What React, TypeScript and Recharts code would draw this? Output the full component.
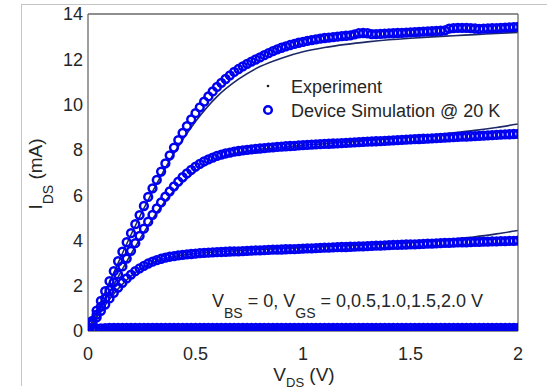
import React from 'react';
import { ComposedChart, Line, XAxis, YAxis } from 'recharts';

// V_DS sample points of the device simulation (V)
const VDS_SIM = [0, 0.02, 0.04, 0.06, 0.08, 0.1, 0.12, 0.14, 0.16, 0.18, 0.2, 0.22, 0.24, 0.26, 0.28, 0.3, 0.32, 0.34, 0.36, 0.38, 0.4, 0.42, 0.44, 0.46, 0.48, 0.5, 0.52, 0.54, 0.56, 0.58, 0.6, 0.62, 0.64, 0.66, 0.68, 0.7, 0.72, 0.74, 0.76, 0.78, 0.8, 0.82, 0.84, 0.86, 0.88, 0.9, 0.92, 0.94, 0.96, 0.98, 1, 1.02, 1.04, 1.06, 1.08, 1.1, 1.12, 1.14, 1.16, 1.18, 1.2, 1.22, 1.24, 1.26, 1.28, 1.3, 1.32, 1.34, 1.36, 1.38, 1.4, 1.42, 1.44, 1.46, 1.48, 1.5, 1.52, 1.54, 1.56, 1.58, 1.6, 1.62, 1.64, 1.66, 1.68, 1.7, 1.72, 1.74, 1.76, 1.78, 1.8, 1.82, 1.84, 1.86, 1.88, 1.9, 1.92, 1.94, 1.96, 1.98, 2];

// Simulated I_DS (mA) for each V_GS
const SIM_VGS_20 = [0, 0.45, 0.9, 1.33, 1.76, 2.2, 2.64, 3.08, 3.5, 3.92, 4.32, 4.72, 5.12, 5.52, 5.92, 6.3, 6.67, 7.04, 7.4, 7.76, 8.1, 8.43, 8.75, 9.05, 9.34, 9.62, 9.88, 10.13, 10.36, 10.58, 10.78, 10.96, 11.13, 11.29, 11.44, 11.57, 11.69, 11.8, 11.9, 11.99, 12.08, 12.18, 12.27, 12.36, 12.44, 12.51, 12.57, 12.63, 12.68, 12.73, 12.77, 12.81, 12.85, 12.88, 12.91, 12.94, 12.96, 12.98, 13.0, 13.02, 13.04, 13.06, 13.1, 13.15, 13.16, 13.15, 13.11, 13.11, 13.12, 13.13, 13.14, 13.15, 13.16, 13.17, 13.18, 13.19, 13.2, 13.21, 13.22, 13.23, 13.24, 13.25, 13.26, 13.28, 13.35, 13.38, 13.39, 13.39, 13.39, 13.38, 13.36, 13.34, 13.35, 13.36, 13.37, 13.38, 13.39, 13.4, 13.41, 13.42, 13.43];
const SIM_VGS_15 = [0, 0.36, 0.72, 1.08, 1.44, 1.8, 2.15, 2.5, 2.85, 3.2, 3.54, 3.88, 4.2, 4.52, 4.83, 5.13, 5.41, 5.68, 5.93, 6.17, 6.39, 6.6, 6.79, 6.96, 7.12, 7.26, 7.38, 7.49, 7.58, 7.66, 7.73, 7.79, 7.84, 7.88, 7.92, 7.95, 7.98, 8.0, 8.02, 8.04, 8.06, 8.08, 8.1, 8.11, 8.13, 8.14, 8.16, 8.17, 8.18, 8.2, 8.21, 8.22, 8.23, 8.24, 8.25, 8.26, 8.27, 8.28, 8.29, 8.3, 8.31, 8.32, 8.33, 8.34, 8.35, 8.36, 8.37, 8.38, 8.39, 8.4, 8.41, 8.42, 8.43, 8.44, 8.45, 8.46, 8.47, 8.48, 8.49, 8.5, 8.51, 8.52, 8.53, 8.54, 8.55, 8.56, 8.57, 8.58, 8.59, 8.6, 8.61, 8.62, 8.63, 8.64, 8.65, 8.66, 8.67, 8.68, 8.69, 8.7, 8.71];
const SIM_VGS_10 = [0, 0.3, 0.6, 0.89, 1.17, 1.44, 1.69, 1.92, 2.13, 2.32, 2.49, 2.64, 2.77, 2.88, 2.98, 3.06, 3.13, 3.19, 3.24, 3.28, 3.31, 3.34, 3.36, 3.38, 3.4, 3.42, 3.44, 3.45, 3.46, 3.47, 3.48, 3.49, 3.5, 3.51, 3.52, 3.52, 3.53, 3.54, 3.55, 3.56, 3.56, 3.57, 3.58, 3.59, 3.59, 3.6, 3.61, 3.62, 3.62, 3.63, 3.64, 3.65, 3.65, 3.66, 3.67, 3.68, 3.68, 3.69, 3.7, 3.71, 3.71, 3.72, 3.73, 3.74, 3.74, 3.75, 3.76, 3.77, 3.77, 3.78, 3.79, 3.8, 3.8, 3.81, 3.82, 3.83, 3.83, 3.84, 3.85, 3.86, 3.86, 3.87, 3.88, 3.89, 3.89, 3.9, 3.91, 3.92, 3.92, 3.93, 3.94, 3.94, 3.95, 3.95, 3.96, 3.96, 3.97, 3.97, 3.98, 3.98, 3.99];
const SIM_VGS_05 = [0, 0.06, 0.1, 0.12, 0.13, 0.14, 0.14, 0.14, 0.14, 0.14, 0.14, 0.14, 0.14, 0.14, 0.14, 0.14, 0.14, 0.14, 0.14, 0.14, 0.14, 0.14, 0.14, 0.14, 0.14, 0.14, 0.14, 0.14, 0.14, 0.14, 0.14, 0.14, 0.14, 0.14, 0.14, 0.14, 0.14, 0.14, 0.14, 0.14, 0.14, 0.14, 0.14, 0.14, 0.14, 0.14, 0.14, 0.14, 0.14, 0.14, 0.14, 0.14, 0.14, 0.14, 0.14, 0.14, 0.14, 0.14, 0.14, 0.14, 0.14, 0.14, 0.14, 0.14, 0.14, 0.14, 0.14, 0.14, 0.14, 0.14, 0.14, 0.14, 0.14, 0.14, 0.14, 0.14, 0.14, 0.14, 0.14, 0.14, 0.14, 0.14, 0.14, 0.14, 0.14, 0.14, 0.14, 0.14, 0.14, 0.14, 0.14, 0.14, 0.14, 0.14, 0.14, 0.14, 0.14, 0.14, 0.14, 0.14, 0.14];
const SIM_VGS_0 = [0, 0, 0, 0, 0, 0, 0, 0, 0, 0, 0, 0, 0, 0, 0, 0, 0, 0, 0, 0, 0, 0, 0, 0, 0, 0, 0, 0, 0, 0, 0, 0, 0, 0, 0, 0, 0, 0, 0, 0, 0, 0, 0, 0, 0, 0, 0, 0, 0, 0, 0, 0, 0, 0, 0, 0, 0, 0, 0, 0, 0, 0, 0, 0, 0, 0, 0, 0, 0, 0, 0, 0, 0, 0, 0, 0, 0, 0, 0, 0, 0, 0, 0, 0, 0, 0, 0, 0, 0, 0, 0, 0, 0, 0, 0, 0, 0, 0, 0, 0, 0];

// Experimental I_DS (mA)
const VDS_EXP = [0, 0.1, 0.2, 0.3, 0.4, 0.5, 0.6, 0.7, 0.8, 0.9, 1.0, 1.1, 1.2, 1.3, 1.4, 1.5, 1.6, 1.7, 1.8, 1.9, 2.0];
const EXP_VGS_20 = [0, 2.15, 4.25, 6.15, 7.85, 9.25, 10.35, 11.12, 11.68, 12.05, 12.33, 12.52, 12.66, 12.77, 12.86, 12.93, 12.99, 13.04, 13.09, 13.14, 13.19];
const EXP_VGS_15 = [0, 1.7, 3.4, 4.95, 6.2, 7.05, 7.58, 7.87, 8.02, 8.11, 8.2, 8.27, 8.34, 8.41, 8.48, 8.56, 8.65, 8.75, 8.86, 8.99, 9.14];
const EXP_VGS_10 = [0, 1.4, 2.42, 3.02, 3.29, 3.42, 3.5, 3.55, 3.6, 3.64, 3.68, 3.72, 3.76, 3.8, 3.85, 3.9, 3.97, 4.06, 4.16, 4.29, 4.44];
const EXP_VGS_05 = [0, 0.05, 0.08, 0.09, 0.1, 0.1, 0.1, 0.1, 0.1, 0.1, 0.1, 0.1, 0.1, 0.1, 0.1, 0.1, 0.1, 0.1, 0.1, 0.1, 0.1];
const EXP_VGS_0 = [0, 0, 0, 0, 0, 0, 0, 0, 0, 0, 0, 0, 0, 0, 0, 0, 0, 0, 0, 0, 0];

const X_TICKS = [0, 0.5, 1, 1.5, 2];
const Y_TICKS = [0, 2, 4, 6, 8, 10, 12, 14];

const LEGEND_EXP = 'Experiment';
const LEGEND_SIM = 'Device Simulation @ 20 K';

const simRows = VDS_SIM.map((v, i) => ({
  v,
  g0: SIM_VGS_0[i],
  g05: SIM_VGS_05[i],
  g10: SIM_VGS_10[i],
  g15: SIM_VGS_15[i],
  g20: SIM_VGS_20[i],
}));
const expRows = VDS_EXP.map((v, i) => ({
  v,
  g0: EXP_VGS_0[i],
  g05: EXP_VGS_05[i],
  g10: EXP_VGS_10[i],
  g15: EXP_VGS_15[i],
  g20: EXP_VGS_20[i],
}));

const KEYS = ['g0', 'g05', 'g10', 'g15', 'g20'];

const FONT = '"Liberation Sans", Arial, sans-serif';
const AX = '#6a6a6a';
const TXT = '#262626';
const BLUE = '#0000f0';
const NAVY = '#1c2868';

export default function App() {
  return (
    <div style={{ position: 'absolute', left: 0, top: 0, width: 547, height: 389, background: '#fff', fontFamily: FONT }}>
      <ComposedChart width={547} height={389} margin={{ top: 14, right: 29, bottom: 0, left: 0 }} style={{ fontFamily: FONT }}>
        <XAxis
          type="number"
          dataKey="v"
          domain={[0, 2]}
          ticks={X_TICKS}
          height={58}
          tickSize={0}
          tickMargin={16}
          tickLine={false}
          axisLine={{ stroke: AX, strokeWidth: 1.3 }}
          tick={{ fontSize: 18, fill: TXT, fontFamily: FONT }}
          allowDataOverflow
        />
        <XAxis xAxisId="xb" type="number" orientation="bottom" mirror domain={[0, 2]} ticks={X_TICKS} tick={false} tickSize={5} axisLine={false} tickLine={{ stroke: AX, strokeWidth: 1.2 }} allowDataOverflow />
        <XAxis xAxisId="xt" type="number" orientation="top" mirror domain={[0, 2]} ticks={X_TICKS} tick={false} tickSize={5} axisLine={{ stroke: AX, strokeWidth: 1.3 }} tickLine={{ stroke: AX, strokeWidth: 1.2 }} allowDataOverflow />
        <YAxis
          type="number"
          domain={[0, 14]}
          ticks={Y_TICKS}
          width={88}
          tickSize={0}
          tickMargin={5}
          tickLine={false}
          axisLine={{ stroke: AX, strokeWidth: 1.3 }}
          tick={{ fontSize: 18, fill: TXT, fontFamily: FONT }}
          allowDataOverflow
        />
        <YAxis yAxisId="yl" type="number" orientation="left" mirror domain={[0, 14]} ticks={Y_TICKS} tick={false} tickSize={5} axisLine={false} tickLine={{ stroke: AX, strokeWidth: 1.2 }} allowDataOverflow />
        <YAxis yAxisId="yr" type="number" orientation="right" mirror domain={[0, 14]} ticks={Y_TICKS} tick={false} tickSize={5} axisLine={{ stroke: AX, strokeWidth: 1.3 }} tickLine={{ stroke: AX, strokeWidth: 1.2 }} allowDataOverflow />

        {KEYS.map((k) => (
          <Line
            key={'exp-' + k}
            data={expRows}
            dataKey={k}
            type="monotone"
            stroke={NAVY}
            strokeWidth={1.6}
            dot={false}
            isAnimationActive={false}
          />
        ))}
        {KEYS.map((k) => (
          <Line
            key={'sim-' + k}
            data={simRows}
            dataKey={k}
            stroke="none"
            dot={{ r: 3.9, stroke: BLUE, strokeWidth: 2.5, fill: 'none' }}
            isAnimationActive={false}
          />
        ))}
      </ComposedChart>

      <svg width={547} height={389} style={{ position: 'absolute', left: 0, top: 0, pointerEvents: 'none' }} fontFamily={FONT}>
        <line x1={21.5} y1={4} x2={21.5} y2={386} stroke="#c4c4c4" strokeWidth={1} />
        <line x1={21} y1={4.5} x2={547} y2={4.5} stroke="#c4c4c4" strokeWidth={1} />

        {/* legend */}
        <circle cx={268} cy={86} r={1.3} fill="#1a1a1a" />
        <text x={291} y={92.5} fontSize={18} fill={TXT}>{LEGEND_EXP}</text>
        <circle cx={268} cy={110} r={3.8} fill="none" stroke={BLUE} strokeWidth={2.5} />
        <text x={291} y={116.5} fontSize={18} fill={TXT}>{LEGEND_SIM}</text>

        {/* annotation */}
        <text x={212} y={306.5} fontSize={18} fill={TXT}>
          <tspan>V</tspan>
          <tspan fontSize={14} dy={11}>BS</tspan>
          <tspan dy={-11}> = 0, V</tspan>
          <tspan fontSize={14} dy={11}>GS</tspan>
          <tspan dy={-11}> = 0,0.5,1.0,1.5,2.0 V</tspan>
        </text>

        {/* x label */}
        <text x={304} y={381} fontSize={19} fill={TXT} textAnchor="middle">
          <tspan>V</tspan>
          <tspan fontSize={13} dy={6}>DS</tspan>
          <tspan dy={-6}> (V)</tspan>
        </text>

        {/* y label */}
        <text x={42} y={174} fontSize={19} fill={TXT} textAnchor="middle" transform="rotate(-90 42 174)">
          <tspan>I</tspan>
          <tspan fontSize={14} dy={11}>DS</tspan>
          <tspan dy={-11}> (mA)</tspan>
        </text>
      </svg>
    </div>
  );
}
